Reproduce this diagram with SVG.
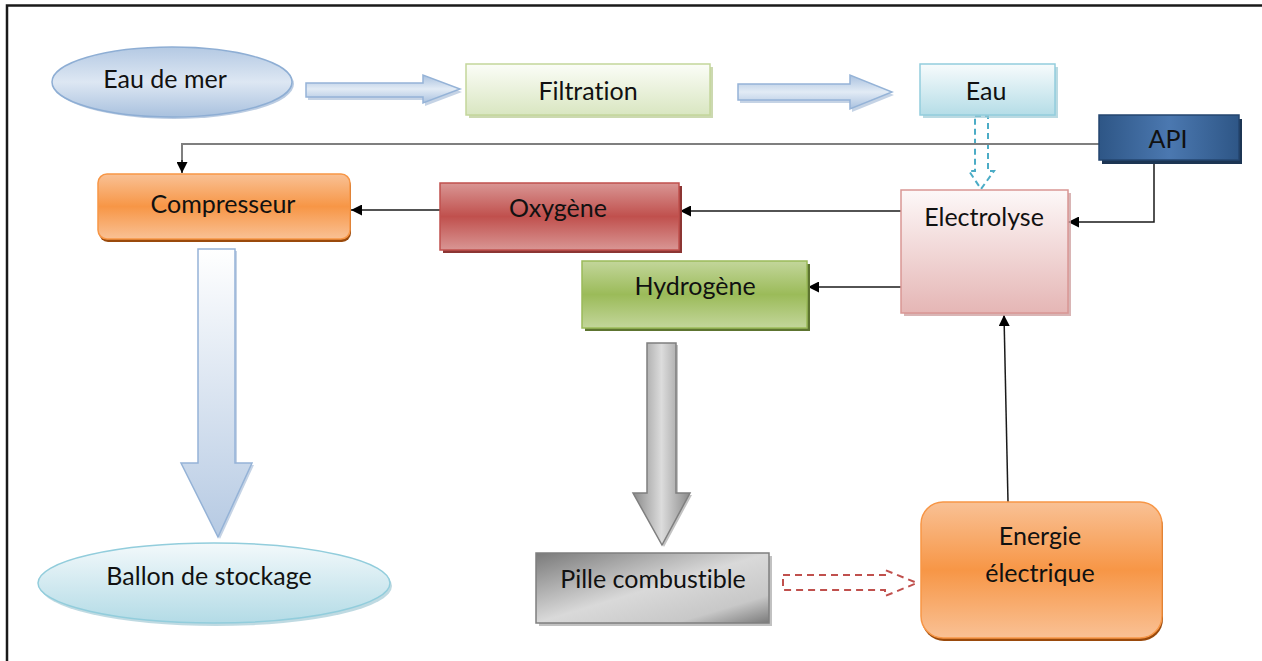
<svg xmlns="http://www.w3.org/2000/svg" width="1262" height="661" viewBox="0 0 1262 661">
  <style>
    text { font-family: Lato, "Liberation Sans", sans-serif; font-size: 25px; fill: #111; text-anchor: middle; font-variant-ligatures: none; }
    .conn { fill: none; stroke: #1a1a1a; stroke-width: 1.5; }
    .conn-grey { fill: none; stroke: #7f7f7f; stroke-width: 2; }
  </style>
  <defs>
    <marker id="tri" viewBox="0 0 10 10" refX="10" refY="5" markerWidth="11" markerHeight="11" markerUnits="userSpaceOnUse" orient="auto">
      <path d="M0,0 L10,5 L0,10 z" fill="#000"/>
    </marker>
    <linearGradient id="gSea" x1="0" y1="0" x2="0" y2="1">
      <stop offset="0" stop-color="#b4c9e3"/>
      <stop offset="0.5" stop-color="#dde7f3"/>
      <stop offset="1" stop-color="#a9c1de"/>
    </linearGradient>
    <linearGradient id="gFilt" x1="0" y1="0" x2="0" y2="1">
      <stop offset="0" stop-color="#fbfdf7"/>
      <stop offset="1" stop-color="#d9e6c1"/>
    </linearGradient>
    <linearGradient id="gEau" x1="0" y1="0" x2="0" y2="1">
      <stop offset="0" stop-color="#f7fbfc"/>
      <stop offset="1" stop-color="#b5dde7"/>
    </linearGradient>
    <linearGradient id="gApi" x1="0" y1="0" x2="1" y2="0">
      <stop offset="0" stop-color="#2e5686"/>
      <stop offset="0.5" stop-color="#4b78b0"/>
      <stop offset="1" stop-color="#2e5686"/>
    </linearGradient>
    <linearGradient id="gElec" x1="0" y1="0" x2="0" y2="1">
      <stop offset="0" stop-color="#fdf8f8"/>
      <stop offset="1" stop-color="#e5b6b5"/>
    </linearGradient>
    <linearGradient id="gOxy" x1="0" y1="0" x2="0" y2="1">
      <stop offset="0" stop-color="#d99694"/>
      <stop offset="0.5" stop-color="#c0504d"/>
      <stop offset="1" stop-color="#d99694"/>
    </linearGradient>
    <linearGradient id="gOrange" x1="0" y1="0" x2="0" y2="1">
      <stop offset="0" stop-color="#f9c195"/>
      <stop offset="0.5" stop-color="#f79646"/>
      <stop offset="1" stop-color="#f9c195"/>
    </linearGradient>
    <linearGradient id="gHyd" x1="0" y1="0" x2="0" y2="1">
      <stop offset="0" stop-color="#c3d69b"/>
      <stop offset="0.5" stop-color="#9bbb59"/>
      <stop offset="1" stop-color="#c3d69b"/>
    </linearGradient>
    <linearGradient id="gPile" x1="0" y1="0" x2="1" y2="1">
      <stop offset="0" stop-color="#7a7a7a"/>
      <stop offset="0.5" stop-color="#d9d9d9"/>
      <stop offset="0.8" stop-color="#c8c8c8"/>
      <stop offset="1" stop-color="#7a7a7a"/>
    </linearGradient>
    <linearGradient id="gBallon" x1="0" y1="0" x2="0" y2="1">
      <stop offset="0" stop-color="#f3f9fb"/>
      <stop offset="1" stop-color="#b3dbe6"/>
    </linearGradient>
    <linearGradient id="gBlueDown" x1="0" y1="0" x2="0" y2="1">
      <stop offset="0" stop-color="#ffffff"/>
      <stop offset="1" stop-color="#b6cae3"/>
    </linearGradient>
    <linearGradient id="gGreyDown" x1="0" y1="0" x2="1" y2="0">
      <stop offset="0" stop-color="#8a8a8a"/>
      <stop offset="0.5" stop-color="#dcdcdc"/>
      <stop offset="1" stop-color="#8a8a8a"/>
    </linearGradient>
    <linearGradient id="gBlueRight" x1="0" y1="0" x2="0" y2="1">
      <stop offset="0" stop-color="#a9c1df"/>
      <stop offset="0.5" stop-color="#e2ebf5"/>
      <stop offset="1" stop-color="#a9c1df"/>
    </linearGradient>
  </defs>

  <rect width="1262" height="661" fill="#ffffff"/>
  <!-- page frame: top and left edges only -->
  <path d="M7,661 V5.5 H1262" fill="none" stroke="#1a1a1a" stroke-width="2.5"/>

  <!-- connectors -->
  <g id="connectors">
    <!-- block arrows -->
    <path d="M306,83 H423 V75 L460,89 L423,103 V97 H306 z" fill="#9fb6d4" transform="translate(2,3)" opacity="0.6"/>
    <path d="M306,83 H423 V75 L460,89 L423,103 V97 H306 z" fill="url(#gBlueRight)" stroke="#95b3d7" stroke-width="1.5"/>
    <path d="M738,84 H850 V75 L892,92 L850,109 V100 H738 z" fill="#9fb6d4" transform="translate(2,3)" opacity="0.6"/>
    <path d="M738,84 H850 V75 L892,92 L850,109 V100 H738 z" fill="url(#gBlueRight)" stroke="#95b3d7" stroke-width="1.5"/>
    <path d="M198,249 H235 V463 H252 L218,537 L181,463 H198 z" fill="#9fb6d4" transform="translate(2,2)" opacity="0.6"/>
    <path d="M198,249 H235 V463 H252 L218,537 L181,463 H198 z" fill="url(#gBlueDown)" stroke="#95b3d7" stroke-width="1.5"/>
    <path d="M647,343 H676 V493 H690 L662,545 L633,493 H647 z" fill="#9a9a9a" transform="translate(2,2)" opacity="0.6"/>
    <path d="M647,343 H676 V493 H690 L662,545 L633,493 H647 z" fill="url(#gGreyDown)" stroke="#7f7f7f" stroke-width="1.5"/>
    <!-- dashed hollow arrows -->
    <path d="M975,116 H988 V171 H994 L981,189 L969,171 H975 z" fill="#ffffff" stroke="#4bacc6" stroke-width="2" stroke-dasharray="6,4"/>
    <path d="M783,575 H885 V570 L917,583 L885,596 V590 H783 z" fill="#ffffff" stroke="#c0504d" stroke-width="2" stroke-dasharray="7,5"/>
    <!-- line connectors -->
    <path class="conn-grey" d="M1099,144 H182 V162"/>
    <path class="conn" d="M182,160 V173" marker-end="url(#tri)"/>
    <path class="conn" d="M1154,160 V222 H1068" marker-end="url(#tri)"/>
    <path class="conn" d="M901,211 H680" marker-end="url(#tri)"/>
    <path class="conn" d="M440,210 H351" marker-end="url(#tri)"/>
    <path class="conn" d="M901,287 H808" marker-end="url(#tri)"/>
    <path class="conn" d="M1008,502 L1004,315" marker-end="url(#tri)"/>
  </g>

  <g id="eau-de-mer">
    <ellipse cx="174" cy="84" rx="120" ry="35" fill="#8eaacf" opacity="0.6"/>
    <ellipse cx="172" cy="82" rx="120" ry="35" fill="url(#gSea)" stroke="#8eaed4" stroke-width="1.5"/>
    <text x="165" y="88">Eau de mer</text>
  </g>

  <g id="filtration">
    <rect x="469" y="67" width="244" height="51" fill="#b7c98e" opacity="0.7"/>
    <rect x="466" y="64" width="244" height="51" fill="url(#gFilt)" stroke="#c3d69b" stroke-width="1.5"/>
    <text x="588" y="100">Filtration</text>
  </g>

  <g id="eau">
    <rect x="923" y="67" width="135" height="51" fill="#9ccad6" opacity="0.7"/>
    <rect x="920" y="64" width="135" height="51" fill="url(#gEau)" stroke="#93cddd" stroke-width="1.5"/>
    <text x="986" y="100">Eau</text>
  </g>

  <g id="api">
    <rect x="1102" y="119" width="140" height="45" fill="#1c3553"/>
    <rect x="1099" y="115" width="140" height="45" fill="url(#gApi)" stroke="#24466f" stroke-width="1.5"/>
    <text x="1168" y="148">API</text>
  </g>

  <g id="electrolyse">
    <rect x="904" y="193" width="167" height="123" fill="#d0a3a2" opacity="0.8"/>
    <rect x="901" y="190" width="167" height="123" fill="url(#gElec)" stroke="#d99694" stroke-width="1.5"/>
    <text x="984" y="226">Electrolyse</text>
  </g>

  <g id="oxygene">
    <rect x="443" y="186" width="239" height="67" fill="#8c3533"/>
    <rect x="440" y="183" width="239" height="67" fill="url(#gOxy)" stroke="#c0504d" stroke-width="1.5"/>
    <text x="558" y="217">Oxygène</text>
  </g>

  <g id="compresseur">
    <rect x="99" y="177" width="252" height="65" rx="9" fill="#9a4a0c"/>
    <rect x="98" y="174" width="252" height="65" rx="9" fill="url(#gOrange)" stroke="#f79646" stroke-width="1.5"/>
    <text x="223" y="213">Compresseur</text>
  </g>

  <g id="hydrogene">
    <rect x="585" y="264" width="225" height="67" fill="#5d7430"/>
    <rect x="582" y="261" width="225" height="67" fill="url(#gHyd)" stroke="#9bbb59" stroke-width="1.5"/>
    <text x="695" y="295">Hydrogène</text>
  </g>

  <g id="ballon-de-stockage">
    <ellipse cx="216" cy="586" rx="176" ry="40" fill="#94c2cf" opacity="0.6"/>
    <ellipse cx="214" cy="583" rx="176" ry="40" fill="url(#gBallon)" stroke="#92cddc" stroke-width="1.5"/>
    <text x="209" y="585">Ballon de stockage</text>
  </g>

  <g id="pille-combustible">
    <rect x="539" y="556" width="233" height="70" fill="#a6a6a6" opacity="0.7"/>
    <rect x="536" y="553" width="233" height="70" fill="url(#gPile)" stroke="#7f7f7f" stroke-width="1.5"/>
    <text x="653" y="588">Pille combustible</text>
  </g>

  <g id="energie-electrique">
    <rect x="922" y="505" width="241" height="136" rx="22" fill="#9a4a0c"/>
    <rect x="921" y="502" width="241" height="136" rx="22" fill="url(#gOrange)" stroke="#f79646" stroke-width="1.5"/>
    <text x="1040" y="545">Energie</text>
    <text x="1040" y="582">électrique</text>
  </g>
</svg>
